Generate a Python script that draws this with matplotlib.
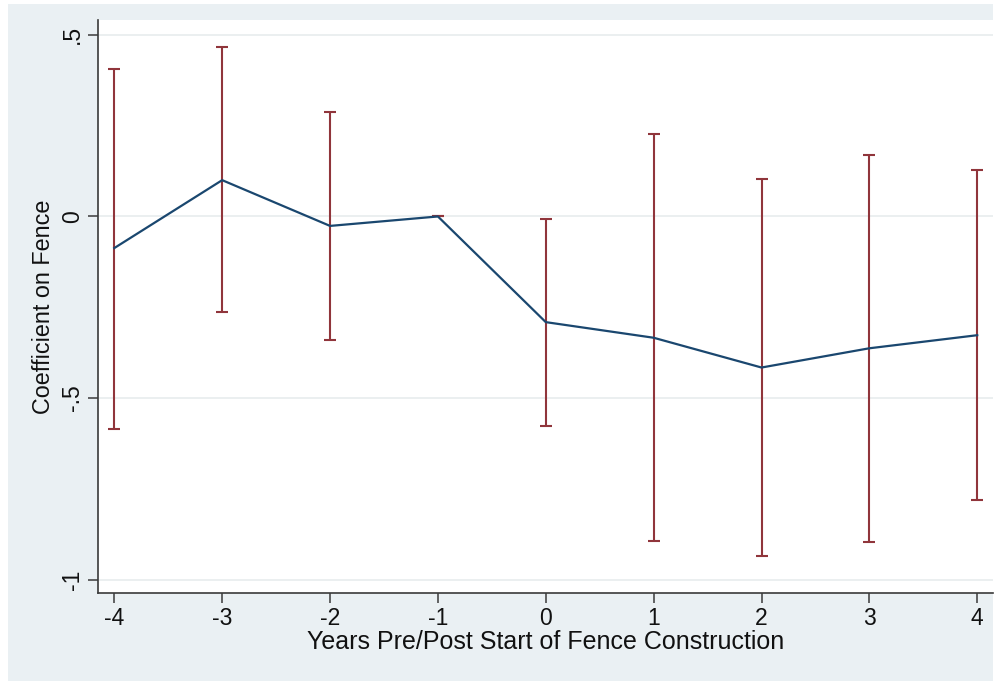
import matplotlib
matplotlib.use("Agg")
import matplotlib.pyplot as plt
from matplotlib.patches import Rectangle

plt.rcParams['font.family'] = ['Liberation Sans', 'DejaVu Sans']

# event-study coefficients with 95% CIs (year -1 is the omitted base)
years = [-4, -3, -2, -1, 0, 1, 2, 3, 4]
coef = [-0.087, 0.100, -0.026, 0.0, -0.291, -0.334, -0.416, -0.363, -0.327]
ci_low = [-0.584, -0.264, -0.340, 0.0, -0.577, -0.893, -0.936, -0.896, -0.780]
ci_high = [0.405, 0.467, 0.288, 0.0, -0.007, 0.227, 0.102, 0.169, 0.127]

y_ticks = [0.5, 0, -0.5, -1]
y_ticklabels = ['.5', '0', '-.5', '-1']

navy = '#1a476f'
maroon = '#90353b'
bg = '#eaf0f3'

fig = plt.figure(figsize=(10.02, 6.81), dpi=100)
fig.patch.set_facecolor('white')
fig.patches.append(Rectangle((8 / 1002, 0), (993 - 8) / 1002, 677 / 681,
                             transform=fig.transFigure, facecolor=bg,
                             edgecolor='none', zorder=-10))

ax = fig.add_axes([0.0975, 0.1292, 0.8935, 0.8414])
ax.set_facecolor('white')

# confidence intervals
lower_err = [c - lo for c, lo in zip(coef, ci_low)]
upper_err = [hi - c for c, hi in zip(coef, ci_high)]
ax.errorbar(years, coef, yerr=[lower_err, upper_err], fmt='none',
            ecolor=maroon, elinewidth=1.5, capsize=4, capthick=1.5, zorder=2)
ax.plot(years, coef, color=navy, linewidth=1.6, zorder=3)

ax.set_xlim(-4.154, 4.146)
ax.set_ylim(-1.037, 0.541)
ax.set_xticks(years)
ax.set_xticklabels([str(y) for y in years])
ax.set_yticks(y_ticks)
ax.set_yticklabels(y_ticklabels, rotation=90, va='center')

ax.grid(axis='y', color='#e8ecee', linewidth=1.2)
ax.set_axisbelow(True)
for side in ['top', 'right']:
    ax.spines[side].set_visible(False)
for side in ['left', 'bottom']:
    ax.spines[side].set_color('#3a3a3a')
    ax.spines[side].set_linewidth(1.2)

ax.tick_params(axis='both', length=7, width=1.1, color='#3a3a3a',
               labelsize=16.5, labelcolor='#111111')
ax.tick_params(axis='x', pad=3)
ax.tick_params(axis='y', pad=3)

ax.set_xlabel('Years Pre/Post Start of Fence Construction', fontsize=18,
              color='#111111', labelpad=0)
ax.set_ylabel('Coefficient on Fence', fontsize=16.8, color='#111111',
              labelpad=4)

fig.savefig('out.png', dpi=100, facecolor=fig.get_facecolor())
